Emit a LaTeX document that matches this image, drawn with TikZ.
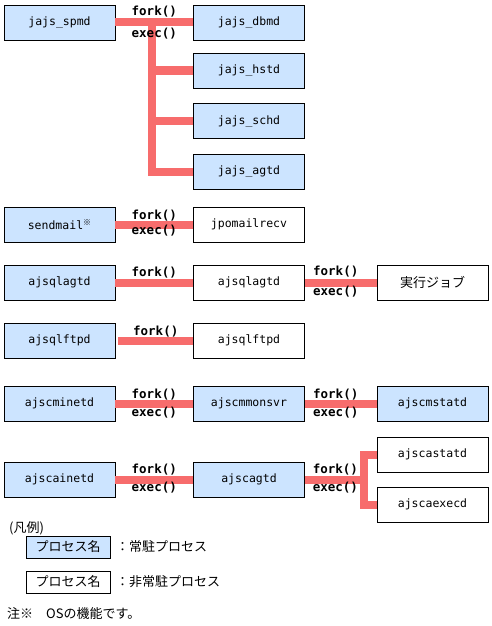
\documentclass[tikz,border=0pt]{standalone}
\usepackage{fontspec}
\setmainfont{Noto Sans CJK JP}
\setmonofont{DejaVu Sans Mono}
\usepackage{tikz}

\definecolor{resident}{RGB}{204,228,255}
\definecolor{forkline}{RGB}{247,108,108}
\newcommand{\jpsize}{\fontsize{13}{15}\selectfont}

\begin{document}
\begin{tikzpicture}[x=1pt, y=-1pt,
    proc/.style={draw, line width=0.8pt, minimum width=111pt, minimum height=35pt, inner sep=0pt, font=\fontsize{11.5}{13}\ttfamily},
    res/.style={proc, fill=resident},
    link/.style={draw=forkline, line width=8pt},
    call/.style={font=\fontsize{12.5}{14}\ttfamily\bfseries, inner sep=0pt},
    legbox/.style={minimum width=84pt, minimum height=22pt, font=\jpsize}]
  \useasboundingbox (0,0) rectangle (491,626);

  % jajs_spmd and its children
  \node[res] (spmd) at (59.5,22.5) {jajs\_spmd};
  \node[res] (dbmd) at (249,22.5) {jajs\_dbmd};
  \node[res] (hstd) at (249,70.5) {jajs\_hstd};
  \node[res] (schd) at (249,121) {jajs\_schd};
  \node[res] (agtd) at (249,171.5) {jajs\_agtd};
  \coordinate (trunk) at (152,22.5);
  \draw[link] (trunk) |- (agtd.west);
  \draw[link] (trunk |- hstd.west) -- (hstd.west);
  \draw[link] (trunk |- schd.west) -- (schd.west);
  \draw[link] (spmd.east) -- node[call, above=1pt] (f1) {fork()} node[call, below=2pt] (e1) {exec()} (dbmd.west);

  % sendmail
  \node[res] (sendmail) at (59.5,224.5) {sendmail\raisebox{0.7ex}{\rmfamily\fontsize{8}{8}\selectfont ※}};
  \node[proc] (mailrecv) at (249,224.5) {jpomailrecv};
  \draw[link] (sendmail.east) -- node[call, above=-1pt] (f2) {fork()} node[call, below=-3pt] (e2) {exec()} (mailrecv.west);

  % ajsqlagtd
  \node[res] (qlagtd) at (59.5,282.5) {ajsqlagtd};
  \node[proc] (qlagtdc) at (249,282.5) {ajsqlagtd};
  \node[proc, font=\jpsize] (job) at (432.5,282.5) {実行ジョブ};
  \draw[link] (qlagtd.east) -- node[call, above=0pt] (f3) {fork()} (qlagtdc.west);
  \draw[link] (qlagtdc.east) -- node[call, above=1pt, pos=0.43] (f4) {fork()} node[call, below=0pt, pos=0.43] (e4) {exec()} (job.west);

  % ajsqlftpd
  \node[res] (qlftpd) at (59.5,340.5) {ajsqlftpd};
  \node[proc] (qlftpdc) at (249,340.5) {ajsqlftpd};
  \draw[link] ([xshift=3pt]qlftpd.east) -- node[call, above=-1pt] (f5) {fork()} (qlftpdc.west);

  % ajscminetd
  \node[res] (cminetd) at (59.5,403.5) {ajscminetd};
  \node[res] (cmmonsvr) at (249,403.5) {ajscmmonsvr};
  \node[res] (cmstatd) at (432.5,403.5) {ajscmstatd};
  \draw[link] (cminetd.east) -- node[call, above=-1pt] (f6) {fork()} node[call, below=0pt] (e6) {exec()} (cmmonsvr.west);
  \draw[link] (cmmonsvr.east) -- node[call, above=-1pt, pos=0.43] (f7) {fork()} node[call, below=0pt, pos=0.43] (e7) {exec()} (cmstatd.west);

  % ajscainetd
  \node[res] (cainetd) at (59.5,479.5) {ajscainetd};
  \node[res] (cagtd) at (249,479.5) {ajscagtd};
  \node[proc] (castatd) at (432.5,454.5) {ajscastatd};
  \node[proc] (caexecd) at (432.5,504.5) {ajscaexecd};
  \coordinate (branch) at (363.5,479.5);
  \draw[link] (castatd.west) -| (branch |- caexecd.west) -- (caexecd.west);
  \draw[link] (cainetd.east) -- node[call, above=0pt] (f8) {fork()} node[call, below=-1pt] (e8) {exec()} (cagtd.west);
  \draw[link] (cagtd.east) -- node[call, above=0pt, pos=0.52] (f9) {fork()} node[call, below=-1pt, pos=0.52] (e9) {exec()} (branch);

  % legend
  \node[anchor=west, inner sep=0pt, font=\jpsize] (legend) at (9,528) {(凡例)};
  \node[draw, line width=0.8pt, fill=resident, legbox] (lgres) at (68,547) {プロセス名};
  \node[anchor=west, inner sep=0pt, font=\jpsize] (lgrestext) at (116,547) {：常駐プロセス};
  \node[draw, line width=0.8pt, legbox] (lgnon) at (68,582) {プロセス名};
  \node[anchor=west, inner sep=0pt, font=\jpsize] (lgnontext) at (116,582) {：非常駐プロセス};
  \node[anchor=west, inner sep=0pt, font=\jpsize] (note) at (7,614) {注※　OSの機能です。};
\end{tikzpicture}
\end{document}
